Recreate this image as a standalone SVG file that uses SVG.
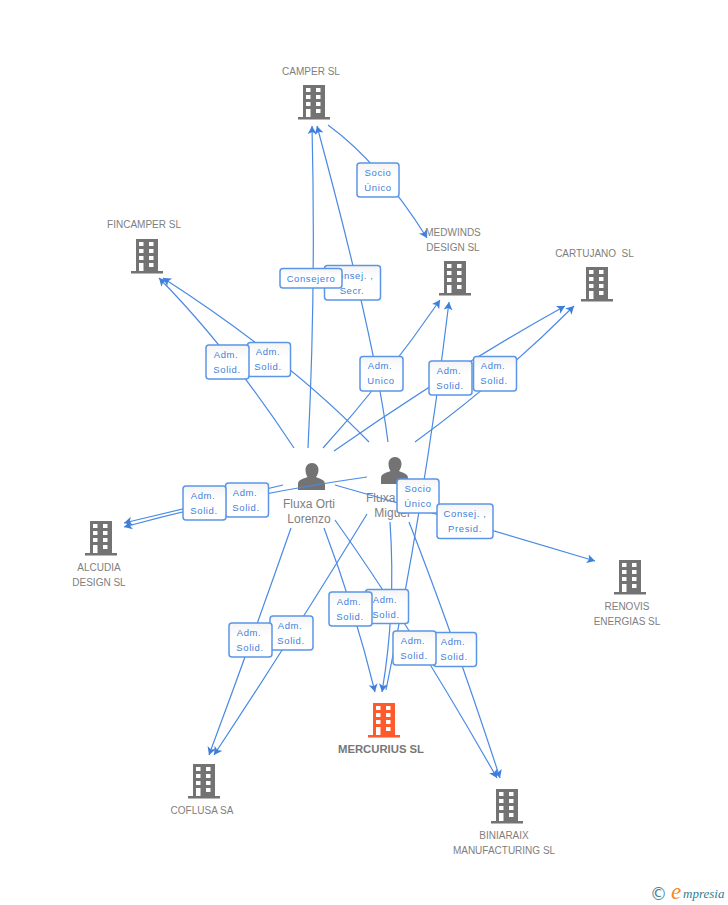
<svg xmlns="http://www.w3.org/2000/svg" width="728" height="905" viewBox="0 0 728 905">
<style>
.n{font-family:"Liberation Sans",Arial,sans-serif;font-size:10px;fill:#808080;text-anchor:middle}
.p{font-size:12px}
.b{font-weight:bold;font-size:11.300px;fill:#777}
.c path{fill:none;stroke:#4a8ae4;stroke-width:1.200;marker-end:url(#a)}
.l rect{fill:url(#g);stroke:#5b96e6;stroke-width:1.500}
.l text{font-family:"Liberation Sans",Arial,sans-serif;font-size:9.500px;letter-spacing:.6px;fill:#3f7fdc;text-anchor:middle}
</style>
<defs>
<linearGradient id="g" x1="0" y1="0" x2="0" y2="1"><stop offset="0" stop-color="#f4f4f4"/><stop offset=".4" stop-color="#fff"/><stop offset="1" stop-color="#fff"/></linearGradient>
<marker id="a" markerUnits="userSpaceOnUse" markerWidth="12" markerHeight="12" refX="8" refY="5" orient="auto"><path d="M0 .5L8 5L0 9.500L2 5Z" fill="#3f7fdc"/></marker>
<symbol id="bld" width="32" height="35" overflow="visible"><path d="M5 0H27V32H32V34.500H0V32H5ZM8 3V7H12.500V3ZM18 3V7H22.500V3ZM8 10V14H12.500V10ZM18 10V14H22.500V10ZM8 17V21H12.500V17ZM18 17V21H22.500V17ZM8 24V32H12.500V24ZM18 24V28H22.500V24Z" fill="currentColor" fill-rule="evenodd"/></symbol>
<symbol id="psn" width="28" height="28" overflow="visible"><path d="M14 0C18 0 20.500 3 20.500 7C20.500 10 19 12.500 18 14C20 15.500 27 16 27 21V27H0V21C0 16 7 15.500 9.500 14C8.500 12.500 7.500 10 7.500 7C7.500 3 10 0 14 0Z" fill="#737373"/></symbol>
</defs>
<g id="n-camper" color="#737373"><use href="#bld" x="298" y="85"/><text class="n" x="311" y="75">CAMPER SL</text></g>
<g id="n-fincamper" color="#737373"><use href="#bld" x="131" y="239"/><text class="n" x="144" y="228">FINCAMPER SL</text></g>
<g id="n-medwinds" color="#737373"><use href="#bld" x="439" y="261"/><text class="n" x="453" y="236">MEDWINDS</text><text class="n" x="453" y="251">DESIGN SL</text></g>
<g id="n-cartujano" color="#737373"><use href="#bld" x="581" y="267"/><text class="n" x="594.500" y="257" xml:space="preserve">CARTUJANO  SL</text></g>
<g id="n-alcudia" color="#737373"><use href="#bld" x="85" y="521"/><text class="n" x="99" y="571">ALCUDIA</text><text class="n" x="99" y="586">DESIGN SL</text></g>
<g id="n-renovis" color="#737373"><use href="#bld" x="614" y="560"/><text class="n" x="627" y="610">RENOVIS</text><text class="n" x="627" y="625">ENERGIAS SL</text></g>
<g id="n-coflusa" color="#737373"><use href="#bld" x="188" y="764"/><text class="n" x="202" y="814">COFLUSA SA</text></g>
<g id="n-biniaraix" color="#737373"><use href="#bld" x="491" y="789"/><text class="n" x="504" y="839">BINIARAIX</text><text class="n" x="504" y="854">MANUFACTURING SL</text></g>
<g id="n-mercurius" color="#ff5a2b"><use href="#bld" x="368" y="703"/><text class="n b" x="381" y="753">MERCURIUS SL</text></g>
<g id="n-orti"><use href="#psn" x="298" y="463"/><text class="n p" x="309" y="508">Fluxa Orti</text><text class="n p" x="309" y="523">Lorenzo</text></g>
<g id="n-miguel"><use href="#psn" x="381" y="457"/><text class="n p" x="392" y="502">Fluxa Orti</text><text class="n p" x="392" y="517">Miguel</text></g>
<g id="connectors" class="c">
<path d="M308 448Q316 290 312 126"/>
<path d="M388 442Q375 340 317 126"/>
<path d="M328 125Q380 163 427 238"/>
<path d="M294 448Q228 348 159 278"/>
<path d="M369 442Q290 360 163 278"/>
<path d="M323 448Q385 380 440 300"/>
<path d="M386 690Q425 500 449 302"/>
<path d="M334 451Q450 370 565 306"/>
<path d="M415 442Q500 380 574 306"/>
<path d="M283 485Q200 505 124 523"/>
<path d="M367 477Q240 495 124 527"/>
<path d="M335 485Q465 522 595 561"/>
<path d="M291 528Q250 645 209 755"/>
<path d="M367 514Q290 640 214 755"/>
<path d="M324 528Q355 610 375 692"/>
<path d="M390 522Q396 610 382 692"/>
<path d="M335 520Q410 625 497 778"/>
<path d="M409 522Q455 640 500 778"/>
</g>
<g id="edge-labels" class="l">
<g><rect x="324.500" y="265.500" width="56" height="34.500" rx="3"/><text x="352" y="279">Consej. ,</text><text x="352" y="294">Secr.</text></g>
<g><rect x="280" y="268.500" width="62" height="19.500" rx="3"/><text x="311" y="281.500">Consejero</text></g>
<g><rect x="357" y="163" width="42" height="34" rx="3"/><text x="378" y="176">Socio</text><text x="378" y="191">Único</text></g>
<g><rect x="247.500" y="342.500" width="43" height="34" rx="3"/><text x="268" y="355">Adm.</text><text x="268" y="370">Solid.</text></g>
<g><rect x="206" y="345" width="43" height="34" rx="3"/><text x="226" y="358">Adm.</text><text x="227" y="373">Solid.</text></g>
<g><rect x="360" y="356.500" width="43" height="34.500" rx="3"/><text x="380" y="369">Adm.</text><text x="381" y="384">Unico</text></g>
<g><rect x="473.500" y="356.500" width="43" height="34.500" rx="3"/><text x="493" y="369">Adm.</text><text x="494" y="384">Solid.</text></g>
<g><rect x="429" y="361" width="43" height="34" rx="3"/><text x="449" y="374">Adm.</text><text x="450" y="389">Solid.</text></g>
<g><rect x="225.500" y="483" width="43" height="34" rx="3"/><text x="245" y="496">Adm.</text><text x="246" y="511">Solid.</text></g>
<g><rect x="183" y="486" width="43" height="34" rx="3"/><text x="203" y="499">Adm.</text><text x="204" y="514">Solid.</text></g>
<g><rect x="397" y="479" width="42" height="34" rx="3"/><text x="418" y="492">Socio</text><text x="418" y="507">Único</text></g>
<g><rect x="437" y="504" width="56" height="34.500" rx="3"/><text x="465" y="517">Consej. ,</text><text x="465" y="532">Presid.</text></g>
<g><rect x="270" y="616" width="43" height="34" rx="3"/><text x="290" y="629">Adm.</text><text x="291" y="644">Solid.</text></g>
<g><rect x="229" y="623" width="43" height="34" rx="3"/><text x="249" y="636">Adm.</text><text x="250" y="651">Solid.</text></g>
<g><rect x="365.500" y="589.500" width="43" height="34" rx="3"/><text x="385" y="603">Adm.</text><text x="386" y="618">Solid.</text></g>
<g><rect x="329" y="592" width="43" height="34" rx="3"/><text x="349" y="605">Adm.</text><text x="350" y="620">Solid.</text></g>
<g><rect x="433.500" y="632.500" width="43" height="34" rx="3"/><text x="453" y="645">Adm.</text><text x="454" y="660">Solid.</text></g>
<g><rect x="393" y="631" width="43" height="34" rx="3"/><text x="413" y="644">Adm.</text><text x="414" y="659">Solid.</text></g>
</g>
<g id="logo"><text x="650" y="900" font-family="'DejaVu Sans',sans-serif" font-size="17" fill="#4a7f96">©</text><text x="671" y="899" font-family="'Liberation Serif',serif" font-style="italic" font-size="23" fill="#f58a1f">e</text><text x="683" y="898" font-family="'Liberation Serif',serif" font-style="italic" font-size="13" fill="#2f7d96">mpresia</text></g>
</svg>
